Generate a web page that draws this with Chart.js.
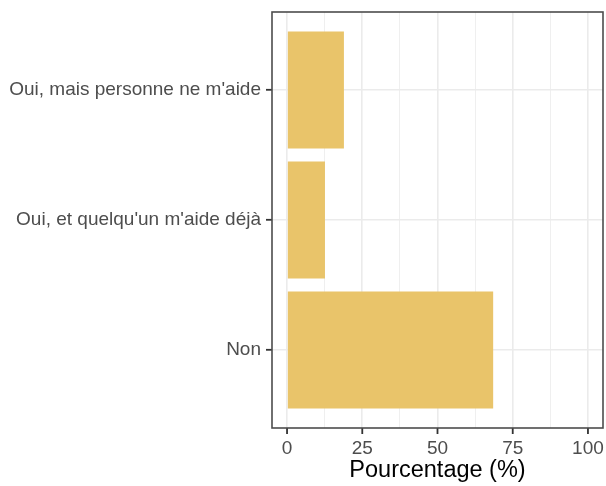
<!DOCTYPE html>
<html>
<head>
<meta charset="utf-8">
<script src="https://cdn.jsdelivr.net/npm/chart.js@4"></script>
<style>
  body { margin: 0; background: #fff; }
</style>
</head>
<body>
<canvas id="chart" width="606" height="486"></canvas>
<script>
// categories, top to bottom
const categories = ["Oui, mais personne ne m'aide", "Oui, et quelqu'un m'aide déjà", 'Non'];
const percentages = [18.9, 12.6, 68.5];
const xTicks = [0, 12.5, 25, 37.5, 50, 62.5, 75, 87.5, 100];
const xLabels = ['0', '', '25', '', '50', '', '75', '', '100'];

const isMajor = v => v % 25 === 0;

// panel border + outside tick marks on x, like theme_bw
const panelBorder = {
  id: 'panelBorder',
  afterDraw(chart) {
    const { ctx, chartArea: a, scales } = chart;
    ctx.save();
    ctx.strokeStyle = '#333333';
    ctx.lineWidth = 1.8;
    ctx.beginPath();
    xTicks.filter(isMajor).forEach(v => {
      const px = scales.x.getPixelForValue(v);
      ctx.moveTo(px, a.bottom);
      ctx.lineTo(px, a.bottom + 6);
    });
    ctx.stroke();
    ctx.strokeStyle = '#4D4D4D';
    ctx.lineWidth = 1.6;
    ctx.strokeRect(a.left, a.top, a.right - a.left, a.bottom - a.top);
    ctx.restore();
  }
};

const ctx = document.getElementById('chart').getContext('2d');
new Chart(ctx, {
  type: 'bar',
  data: {
    datasets: [{
      data: percentages.map((v, i) => ({ x: v, y: i + 1 })),
      backgroundColor: '#E9C46A',
      borderWidth: 0,
      barPercentage: 0.9,
      categoryPercentage: 1.0
    }]
  },
  options: {
    indexAxis: 'y',
    responsive: false,
    animation: false,
    layout: { padding: { top: 12, right: 3, left: 0, bottom: 0 } },
    scales: {
      x: {
        type: 'linear',
        min: -5,
        max: 105,
        afterBuildTicks: s => { s.ticks = xTicks.map(v => ({ value: v })); },
        afterFit: s => { s.height = 58; s.paddingLeft = 0; s.paddingRight = 0; },
        border: { display: false },
        grid: {
          color: '#EBEBEB',
          lineWidth: c => isMajor(c.tick.value) ? 1.6 : 0.8,
          drawTicks: false
        },
        ticks: {
          autoSkip: false,
          maxRotation: 0,
          padding: 9,
          color: '#4D4D4D',
          font: { family: 'Liberation Sans, Arial, sans-serif', size: 19 },
          callback: (v, i) => xLabels[i]
        },
        title: {
          display: true,
          text: 'Pourcentage (%)',
          color: '#000000',
          padding: { top: 0, bottom: 1 },
          font: { family: 'Liberation Sans, Arial, sans-serif', size: 23.5 }
        }
      },
      y: {
        type: 'linear',
        reverse: true,
        min: 0.4,
        max: 3.6,
        offset: false,
        afterBuildTicks: s => { s.ticks = categories.map((c, i) => ({ value: i + 1 })); },
        afterFit: s => { s.width = 272; s.paddingTop = 0; s.paddingBottom = 0; },
        border: { display: false },
        grid: {
          offset: false,
          color: '#EBEBEB',
          lineWidth: 1.6,
          tickColor: '#333333',
          tickLength: 6,
          tickWidth: 1.8
        },
        ticks: {
          autoSkip: false,
          padding: 5,
          color: '#4D4D4D',
          font: { family: 'Liberation Sans, Arial, sans-serif', size: 19 },
          callback: v => categories[v - 1]
        }
      }
    },
    plugins: {
      legend: { display: false },
      tooltip: { enabled: false }
    }
  },
  plugins: [panelBorder]
});
</script>
</body>
</html>
